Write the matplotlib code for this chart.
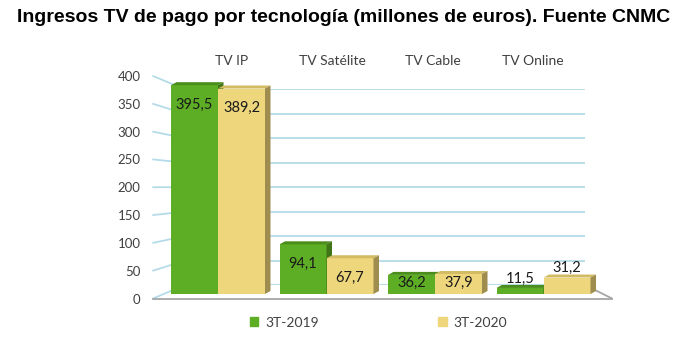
import numpy as np
import matplotlib.pyplot as plt
from matplotlib.patches import Polygon, ConnectionPatch

# datos
categorias = ['TV IP', 'TV Satélite', 'TV Cable', 'TV Online']
ingresos_2019 = [395.5, 94.1, 36.2, 11.5]
ingresos_2020 = [389.2, 67.7, 37.9, 31.2]
series = ['3T-2019', '3T-2020']
yticks = np.arange(0, 401, 50)

titulo = 'Ingresos TV de pago por tecnología (millones de euros). Fuente CNMC'

verde = '#5dae24'
verde_oscuro = '#4a8d1a'
verde_lado = '#3f7516'
amarillo = '#edd67b'
amarillo_oscuro = '#d2bb62'
amarillo_lado = '#9e8d4e'
azul_rejilla = '#b4dce8'
gris = '#a6a6a6'
texto = '#404040'

W, H = 687, 343
fig = plt.figure(figsize=(W / 100, H / 100), dpi=100)
plt.rcParams['font.family'] = ['Lato', 'DejaVu Sans']


def rect(x0, x1, y_top, y_bot):
    # caja en pixeles -> fraccion de figura
    return [x0 / W, 1 - y_bot / H, (x1 - x0) / W, (y_bot - y_top) / H]


# pared del fondo: rejilla y etiquetas de categoria
wall = fig.add_axes(rect(185, 585, 89.3, 285), zorder=0)
wall.set_ylim(0, 400)
wall.set_xlim((185 - 232) / 100.3, (585 - 232) / 100.3)
wall.set_yticks(yticks)
wall.yaxis.grid(True, color=azul_rejilla, lw=1.3)
wall.tick_params(axis='y', left=False, labelleft=False)
wall.xaxis.tick_top()
wall.set_xticks(range(len(categorias)))
wall.set_xticklabels(categorias, fontsize=10, color=texto)
wall.tick_params(axis='x', length=0, pad=16)
for s in wall.spines.values():
    s.set_visible(False)
wall.patch.set_alpha(0)

# plano frontal: etiquetas del eje y y borde del suelo
front = fig.add_axes(rect(153, 612, 76, 298.5), zorder=1)
front.set_ylim(0, 400)
front.set_xlim(0, 1)
front.set_yticks(yticks)
front.set_yticklabels([str(v) for v in yticks], fontsize=9.5, color=texto)
front.tick_params(axis='y', length=0, pad=9)
front.tick_params(axis='x', bottom=False, labelbottom=False)
for k in ['top', 'right', 'left']:
    front.spines[k].set_visible(False)
front.spines['bottom'].set_color(gris)
front.spines['bottom'].set_linewidth(1.3)
front.patch.set_alpha(0)

# lineas oblicuas del frente a la pared
for v in yticks:
    cp = ConnectionPatch(xyA=(0, v), coordsA=front.transData,
                         xyB=(wall.get_xlim()[0], v), coordsB=wall.transData,
                         color=azul_rejilla, lw=1.3, zorder=1)
    front.add_artist(cp)
cp = ConnectionPatch(xyA=(1, 0), coordsA=front.transData,
                     xyB=(wall.get_xlim()[1], 0), coordsB=wall.transData,
                     color=gris, lw=1.3, zorder=1)
front.add_artist(cp)

# barras
ax = fig.add_axes(rect(153, 612, 82.8, 294), zorder=3)
ax.set_xlim((153 - 218) / 108.5, (612 - 218) / 108.5)
ax.set_ylim(0, 400)
ax.axis('off')
ax.patch.set_alpha(0)

x = np.arange(len(categorias))
ancho = 47 / 108.5
dx = 5.5 / 108.5
dy = 3 / 0.528


def barra3d(xc, v, c_front, c_top, c_side):
    x0, x1 = xc - ancho / 2, xc + ancho / 2
    ax.bar(xc, v, width=ancho, color=c_front, lw=0, clip_on=False)
    ax.add_patch(Polygon([(x0, v), (x1, v), (x1 + dx, v + dy), (x0 + dx, v + dy)],
                         closed=True, fc=c_top, lw=0, clip_on=False))
    ax.add_patch(Polygon([(x1, 0), (x1, v), (x1 + dx, v + dy), (x1 + dx, dy)],
                         closed=True, fc=c_side, lw=0, clip_on=False))


def etiqueta(xc, v):
    if v >= 36:
        y = max(v - 37, 21)
    else:
        y = v + 18
    ax.text(xc, y, f'{v:.1f}'.replace('.', ','), ha='center', va='center',
            fontsize=10.5, color='#1a1a1a', clip_on=False)


for i in x:
    barra3d(i - ancho / 2, ingresos_2019[i], verde, verde_oscuro, verde_lado)
    barra3d(i + ancho / 2, ingresos_2020[i], amarillo, amarillo_oscuro, amarillo_lado)
    etiqueta(i - ancho / 2, ingresos_2019[i])
    etiqueta(i + ancho / 2, ingresos_2020[i])

# leyenda
h1 = plt.Rectangle((0, 0), 1, 1, color=verde)
h2 = plt.Rectangle((0, 0), 1, 1, color=amarillo)
leg = fig.legend([h1, h2], series, loc='center', bbox_to_anchor=(378.5 / W, 1 - 322.7 / H),
                 ncol=2, frameon=False, fontsize=10, handlelength=0.6, handleheight=0.6,
                 handletextpad=0.5, columnspacing=8.6)
for t in leg.get_texts():
    t.set_color(texto)

fig.text(344 / W, 1 - 17 / H, titulo, ha='center', va='center', fontsize=14,
         fontweight='bold', family='Liberation Sans')

fig.savefig('out.png', dpi=100)
